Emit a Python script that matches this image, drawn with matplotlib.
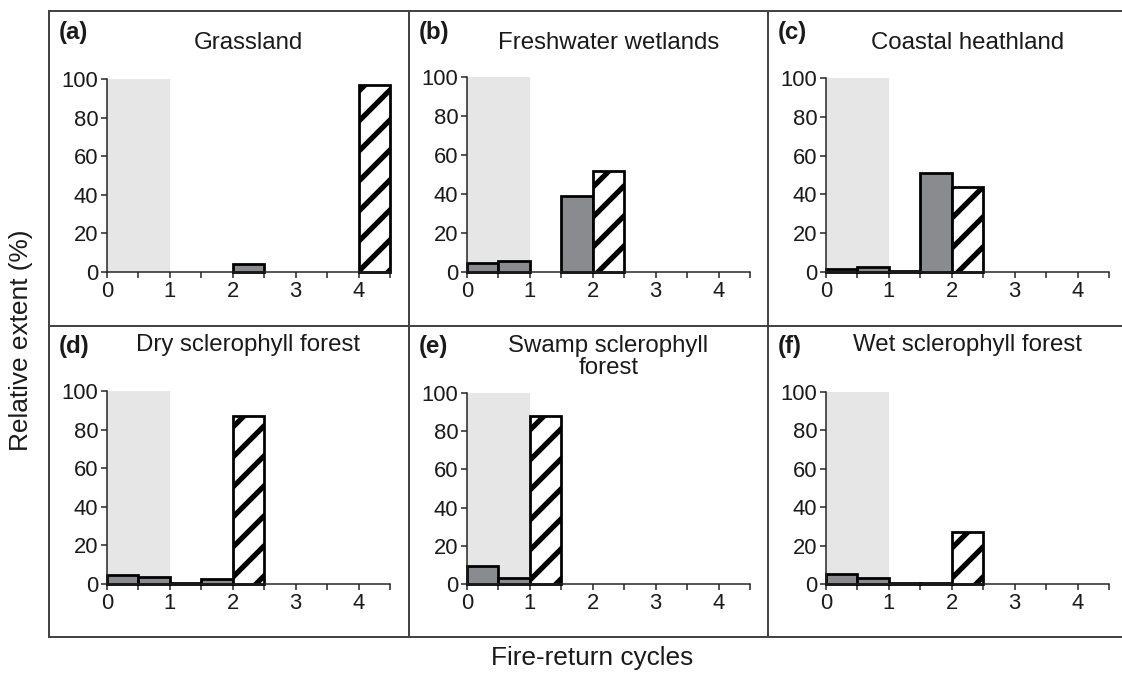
import numpy as np
import matplotlib
matplotlib.use('Agg')
import matplotlib.pyplot as plt
from matplotlib.lines import Line2D

W, H, DPI = 1122, 673, 180

plt.rcParams['font.family'] = ['Liberation Sans', 'DejaVu Sans']
plt.rcParams['hatch.linewidth'] = 2.1
plt.rcParams['hatch.color'] = 'black'

# bin left edges (fire-return cycles), bin width 0.5
bin_left = [0.0, 0.5, 1.0, 1.5, 2.0, 2.5, 3.0, 3.5, 4.0]
panel_tags = ['(a)', '(b)', '(c)', '(d)', '(e)', '(f)']
titles = ['Grassland', 'Freshwater wetlands', 'Coastal heathland',
          'Dry sclerophyll forest', 'Swamp sclerophyll\nforest', 'Wet sclerophyll forest']

gray_a = [0, 0, 0, 0, 4, 0, 0, 0, 0]
gray_b = [4.5, 5.5, 0, 39, 0, 0, 0, 0, 0]
gray_c = [1.5, 2.5, 0.5, 51, 0, 0, 0, 0, 0]
gray_d = [4.5, 3.5, 0.5, 2.5, 0, 0, 0, 0, 0]
gray_e = [9.5, 3, 0, 0, 0, 0, 0, 0, 0]
gray_f = [5, 3, 0.5, 0.5, 0, 0, 0, 0, 0]

hatch_a = [0, 0, 0, 0, 0, 0, 0, 0, 97]
hatch_b = [0, 0, 0, 0, 52, 0, 0, 0, 0]
hatch_c = [0, 0, 0, 0, 44, 0, 0, 0, 0]
hatch_d = [0, 0, 0, 0, 87, 0, 0, 0, 0]
hatch_e = [0, 0, 88, 0, 0, 0, 0, 0, 0]
hatch_f = [0, 0, 0, 0, 27, 0, 0, 0, 0]

grays = [gray_a, gray_b, gray_c, gray_d, gray_e, gray_f]
hatches = [hatch_a, hatch_b, hatch_c, hatch_d, hatch_e, hatch_f]

# axes placement in pixels: x of 0, y of 0, y of 100
ax_px = [(107, 272, 79), (467, 272, 77), (826, 272, 78),
         (107, 584, 391), (467, 584, 393), (826, 584, 392)]
ax_w_px = 283

fig = plt.figure(figsize=(W / DPI, H / DPI), dpi=DPI)

txt = '#1a1a1a'
for i in range(6):
    x0, y0, y100 = ax_px[i]
    ax = fig.add_axes([x0 / W, 1 - y0 / H, ax_w_px / W, (y0 - y100) / H])
    ax.axvspan(0, 1, ymin=0, ymax=1, color='#e6e6e6', lw=0, zorder=0)
    left = np.array(bin_left)
    g = np.array(grays[i], dtype=float)
    h = np.array(hatches[i], dtype=float)
    m = g > 0
    ax.bar(left[m], g[m], width=0.5, align='edge', color='#8a8b8e',
           edgecolor='black', linewidth=1.1, zorder=2, clip_on=False)
    m = h > 0
    ax.bar(left[m], h[m], width=0.5, align='edge', color='white',
           edgecolor='black', linewidth=1.1, hatch='//', zorder=2, clip_on=False)
    ax.set_xlim(0, 4.5)
    ax.set_ylim(0, 100)
    ax.set_xticks(np.arange(0, 4.51, 0.5))
    ax.set_xticklabels(['0', '', '1', '', '2', '', '3', '', '4', ''])
    ax.set_yticks([0, 20, 40, 60, 80, 100])
    ax.tick_params(length=2.2, width=0.6, labelsize=8.8, pad=1.3,
                   colors='#222222', labelcolor=txt)
    for s in ['top', 'right']:
        ax.spines[s].set_visible(False)
    for s in ['left', 'bottom']:
        ax.spines[s].set_linewidth(0.6)
        ax.spines[s].set_color('#222222')
    ax.patch.set_alpha(0)
    # title centred over axes
    cx = (x0 + ax_w_px / 2) / W
    ty = 43 if i < 3 else 345
    if '\n' in titles[i]:
        fig.text(cx, 1 - 357 / H, titles[i], ha='center', va='center',
                 fontsize=9.6, color=txt, linespacing=0.95)
    else:
        fig.text(cx, 1 - ty / H, titles[i], ha='center', va='center',
                 fontsize=9.6, color=txt)
    col = i % 3
    lx = [59, 419, 778][col]
    ly = 32 if i < 3 else 347
    fig.text(lx / W, 1 - ly / H, panel_tags[i], ha='left', va='center',
             fontsize=9.6, fontweight='bold', color=txt)

# outer frame and dividers
lc = '#444444'
lw = 0.8
xl, xr = 49 / W, 1.0
yt, yb, ym = 1 - 11 / H, 1 - 637 / H, 1 - 326 / H
xd1, xd2 = 409 / W, 768 / W
for xs, ys in [((xl, xr), (yt, yt)), ((xl, xr), (yb, yb)), ((xl, xr), (ym, ym)),
               ((xl, xl), (yb, yt)), ((xd1, xd1), (yb, yt)), ((xd2, xd2), (yb, yt))]:
    fig.add_artist(Line2D(xs, ys, color=lc, lw=lw, transform=fig.transFigure))

fig.text(21 / W, 1 - 340 / H, 'Relative extent (%)', rotation=90,
         ha='center', va='center', fontsize=10.5, color=txt)
fig.text(592 / W, 1 - 658 / H, 'Fire-return cycles', ha='center', va='center',
         fontsize=10.5, color=txt)

fig.savefig('out.png', dpi=DPI)
